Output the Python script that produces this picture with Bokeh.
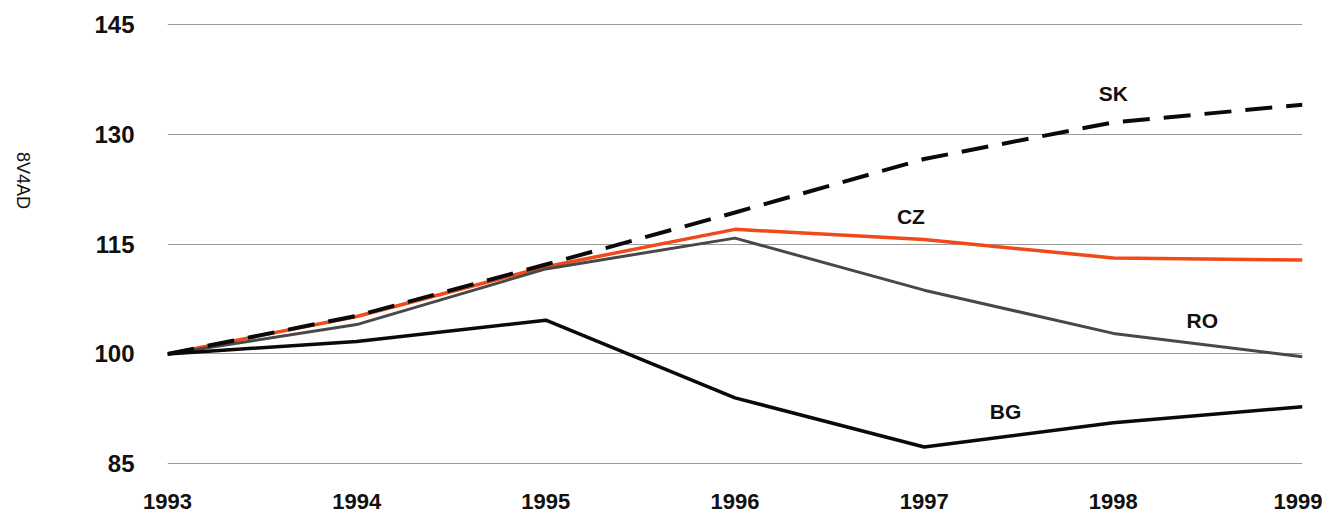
import math
from bokeh.plotting import figure
from bokeh.models import Label, FixedTicker, Range1d
from bokeh.embed import file_html
from bokeh.resources import INLINE

years = [1993, 1994, 1995, 1996, 1997, 1998, 1999]
sk = [100, 105.2, 112.2, 119.3, 126.6, 131.6, 134.0]
cz = [100, 105.1, 111.9, 117.0, 115.6, 113.1, 112.8]
ro = [100, 104.0, 111.6, 115.8, 108.7, 102.8, 99.6]
bg = [100, 101.7, 104.6, 94.0, 87.3, 90.6, 92.8]

y_ticks = [85, 100, 115, 130, 145]
y_title = "8V4AD"
series_labels = [("SK", 1998.0, 135.6), ("CZ", 1996.93, 118.8),
                 ("RO", 1998.47, 104.5), ("BG", 1997.43, 92.2)]

FL, FT, FW, FH = 167, 20, 1135, 447

p = figure(frame_width=FW, frame_height=FH, output_backend="svg",
           toolbar_location=None, x_range=Range1d(1993, 1999),
           y_range=Range1d(84.5, 145.5), min_border_left=FL,
           min_border_top=FT, min_border_right=20, min_border_bottom=49)
p.outline_line_color = None
p.background_fill_color = "white"
p.border_fill_color = "white"

p.xaxis.ticker = FixedTicker(ticks=years)
p.yaxis.ticker = FixedTicker(ticks=y_ticks)
for ax in (p.xaxis, p.yaxis):
    ax.axis_line_color = None
    ax.major_tick_line_color = None
    ax.minor_tick_line_color = None
    ax.major_label_text_font = "Liberation Sans"
    ax.major_label_text_font_style = "bold"
    ax.major_label_text_color = "#111111"
p.xaxis.major_label_text_font_size = "22px"
p.xaxis.major_label_standoff = 20
p.yaxis.major_label_text_font_size = "24px"
p.yaxis.major_label_standoff = 27

# rotated axis title, reading top to bottom, shifted up with trailing spaces
p.yaxis.axis_label = y_title + "\u00a0" * 7
p.yaxis.axis_label_orientation = -math.pi / 2
p.yaxis.axis_label_text_font = "Liberation Sans"
p.yaxis.axis_label_text_font_style = "normal"
p.yaxis.axis_label_text_font_size = "18px"
p.yaxis.axis_label_text_color = "#111111"
p.yaxis.axis_label_standoff = 68

p.xgrid.grid_line_color = None
p.ygrid.grid_line_color = "#9a9a9a"
p.ygrid.grid_line_width = 1

p.line(years, cz, line_color="#f04a1a", line_width=3.5)
p.line(years, ro, line_color="#484848", line_width=3)
p.line(years, bg, line_color="#0a0a0a", line_width=3.5)
p.line(years, sk, line_color="#0a0a0a", line_width=4, line_dash="27 14")

for txt, x, y in series_labels:
    p.add_layout(Label(x=x, y=y, text=txt, text_align="center",
                       text_baseline="middle", text_font="Liberation Sans",
                       text_font_style="bold", text_font_size="21px",
                       text_color="#111111"))

open("out.html", "w").write(file_html(p, INLINE))
